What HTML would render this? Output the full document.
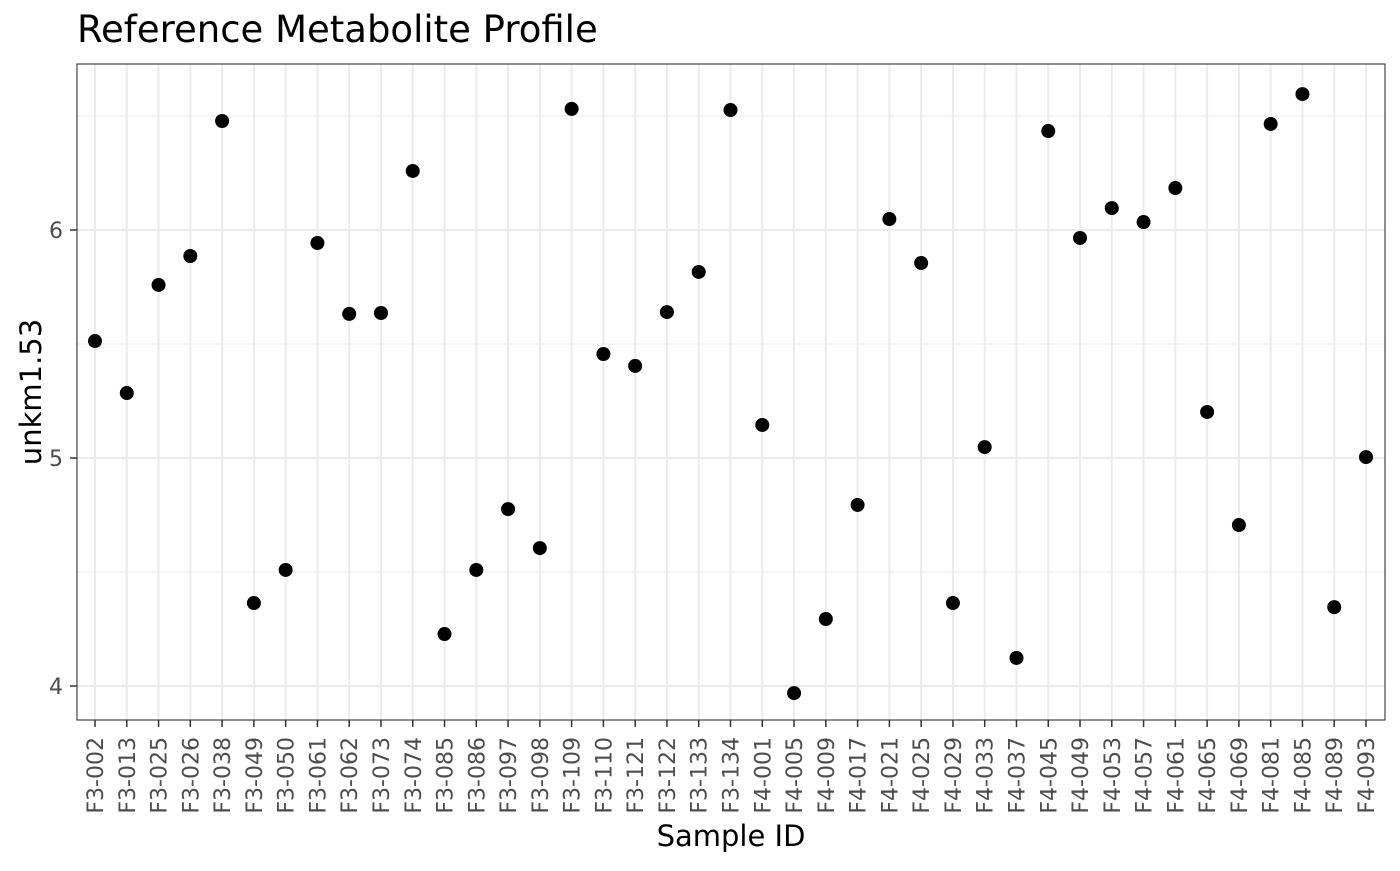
<!DOCTYPE html>
<html><head><meta charset="utf-8"><style>
body{margin:0;background:#fff;}
svg text{font-family:"DejaVu Sans","Liberation Sans",sans-serif;}
</style></head><body>
<svg id="chart" width="1400" height="866" xmlns="http://www.w3.org/2000/svg">
<text x="77" y="42" font-size="37" fill="#000">Reference Metabolite Profile</text>
<g id="grid"></g>
<g id="pts"></g>
<rect x="77" y="64" width="1308" height="656" fill="none" stroke="#333" stroke-width="1.1"/>
<g id="axes"></g>
<text x="731" y="846" font-size="29" text-anchor="middle" fill="#000">Sample ID</text>
<text transform="translate(41,392) rotate(-90)" font-size="29" text-anchor="middle" fill="#000">unkm1.53</text>
</svg>
<script>
const categories=["F3-002","F3-013","F3-025","F3-026","F3-038","F3-049","F3-050","F3-061","F3-062","F3-073","F3-074","F3-085","F3-086","F3-097","F3-098","F3-109","F3-110","F3-121","F3-122","F3-133","F3-134","F4-001","F4-005","F4-009","F4-017","F4-021","F4-025","F4-029","F4-033","F4-037","F4-045","F4-049","F4-053","F4-057","F4-061","F4-065","F4-069","F4-081","F4-085","F4-089","F4-093"];
const values=[5.513,5.285,5.759,5.886,6.478,4.364,4.509,5.943,5.632,5.636,6.259,4.228,4.509,4.776,4.605,6.531,5.456,5.404,5.640,5.816,6.526,5.145,3.969,4.294,4.794,6.048,5.855,4.364,5.048,4.123,6.434,5.965,6.096,6.035,6.184,5.202,4.706,6.465,6.596,4.346,5.004];
const yTicks=[4,5,6];
const yMinor=[4.5,5.5,6.5];
const NS="http://www.w3.org/2000/svg";
const L=77,R=1385,T=64,B=720;
const yMin=3.851,yMax=6.728;
const y=v=>B-(v-yMin)/(yMax-yMin)*(B-T);
const x=i=>95+i*(1366-95)/(categories.length-1);
function mk(tag,attrs,parent){const e=document.createElementNS(NS,tag);for(const k in attrs)e.setAttribute(k,attrs[k]);parent.appendChild(e);return e;}
const grid=document.getElementById('grid'),pts=document.getElementById('pts'),axes=document.getElementById('axes');
yMinor.forEach(v=>{const l=mk('line',{x1:L,x2:R,y1:y(v),y2:y(v),stroke:'#ebebeb','stroke-width':1},grid);

});
yTicks.forEach(v=>{const l=mk('line',{x1:L,x2:R,y1:y(v),y2:y(v),stroke:'#ebebeb','stroke-width':2},grid);


const t=mk('line',{x1:L-7,x2:L,y1:y(v),y2:y(v),stroke:'#333','stroke-width':1.5},axes);


const tx=mk('text',{x:L-14,y:y(v)+8,'font-size':22,'text-anchor':'end',fill:'#4d4d4d'},axes);tx.textContent=v;

});
categories.forEach((c,i)=>{const X=x(i);
const g=mk('line',{x1:X,x2:X,y1:T,y2:B,stroke:'#ebebeb','stroke-width':2},grid);


const t=mk('line',{x1:X,x2:X,y1:B,y2:B+7,stroke:'#333','stroke-width':1.5},axes);


const tx=mk('text',{transform:`translate(${X+8},${B+17}) rotate(-90)`,'font-size':22,'text-anchor':'end',fill:'#4d4d4d'},axes);tx.textContent=c;


const p=mk('circle',{cx:X,cy:y(values[i]),r:7,fill:'#000'},pts);

});
</script>
</body></html>
